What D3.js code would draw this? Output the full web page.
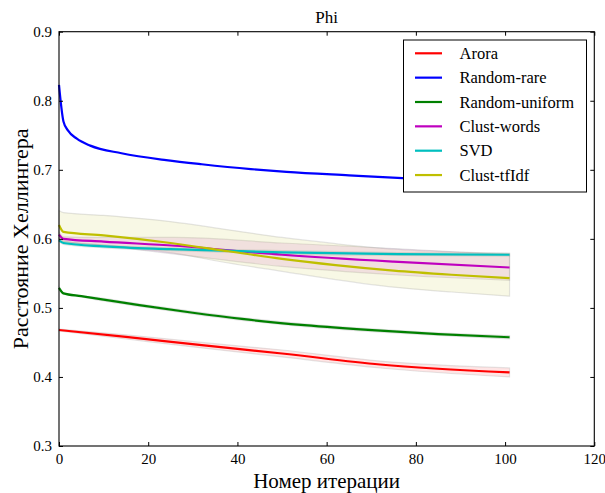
<!DOCTYPE html>
<html>
<head>
<meta charset="utf-8">
<script src="https://cdn.jsdelivr.net/npm/d3@7"></script>
<style>
  body { margin: 0; background: #fff; }
</style>
</head>
<body>
<div id="chart"></div>
<script>
// values (iteration -> Hellinger distance)
var seriesNames = ["Arora", "Random-rare", "Random-uniform", "Clust-words", "SVD", "Clust-tfIdf"];
var seriesColors = ["#ff0000", "#0000ff", "#008000", "#bf00bf", "#00bfbf", "#bfbf00"];

var aroraIter = [0, 15, 32, 50, 72, 101];
var aroraVals = [0.468, 0.458, 0.446, 0.434, 0.418, 0.4066];
var aroraLo = [0.4665, 0.455, 0.442, 0.429, 0.413, 0.400];
var aroraHi = [0.4695, 0.461, 0.450, 0.439, 0.423, 0.413];

var rareIter = [0, 1, 2, 4, 7, 14, 24, 32, 43, 51, 65, 77, 90, 101];
var rareVals = [0.823, 0.770, 0.757, 0.745, 0.735, 0.724, 0.714, 0.708, 0.701, 0.697, 0.692, 0.688, 0.685, 0.683];

var uniformIter = [0, 1, 5, 10, 18, 30, 41, 55, 72, 85, 101];
var uniformVals = [0.529, 0.521, 0.517, 0.512, 0.504, 0.493, 0.484, 0.475, 0.467, 0.462, 0.4575];
var uniformLo = [0.528, 0.520, 0.516, 0.510, 0.502, 0.491, 0.482, 0.473, 0.465, 0.460, 0.455];
var uniformHi = [0.530, 0.522, 0.518, 0.514, 0.506, 0.495, 0.486, 0.477, 0.469, 0.464, 0.460];

var wordsIter = [0, 1, 10, 26, 50, 75, 101];
var wordsVals = [0.606, 0.600, 0.596, 0.590, 0.577, 0.567, 0.5585];
var wordsLo = [0.602, 0.597, 0.590, 0.578, 0.560, 0.548, 0.540];
var wordsHi = [0.610, 0.603, 0.602, 0.602, 0.594, 0.586, 0.577];

var svdIter = [0, 1, 10, 25, 50, 76, 101];
var svdVals = [0.598, 0.594, 0.589, 0.585, 0.5805, 0.578, 0.577];
var svdLo = [0.596, 0.592, 0.587, 0.583, 0.578, 0.576, 0.575];
var svdHi = [0.600, 0.596, 0.591, 0.587, 0.583, 0.580, 0.579];

var tfidfIter = [0, 1, 10, 25, 38, 50, 62, 75, 88, 101];
var tfidfVals = [0.620, 0.610, 0.605, 0.594, 0.582, 0.571, 0.562, 0.554, 0.548, 0.543];
var tfidfLo = [0.598, 0.596, 0.591, 0.580, 0.565, 0.553, 0.541, 0.530, 0.523, 0.517];
var tfidfHi = [0.641, 0.638, 0.634, 0.625, 0.613, 0.602, 0.593, 0.585, 0.581, 0.579];

var xTicks = [0, 20, 40, 60, 80, 100, 120];
var yTicks = [0.3, 0.4, 0.5, 0.6, 0.7, 0.8, 0.9];

var chartTitle = "Phi";
var xLabel = "Номер итерации";
var yLabel = "Расстояние Хеллингера";

var serifFont = "'Liberation Serif', 'Times New Roman', Tinos, 'DejaVu Serif', 'Noto Serif', FreeSerif, serif";

function zipSeries(iter, vals, lo, hi) {
    return iter.map(function (it, i) {
        return { x: it, y: vals[i], lo: lo ? lo[i] : null, hi: hi ? hi[i] : null };
    });
}

var series = [
    { name: seriesNames[0], color: seriesColors[0], points: zipSeries(aroraIter, aroraVals, aroraLo, aroraHi) },
    { name: seriesNames[1], color: seriesColors[1], points: zipSeries(rareIter, rareVals) },
    { name: seriesNames[2], color: seriesColors[2], points: zipSeries(uniformIter, uniformVals, uniformLo, uniformHi) },
    { name: seriesNames[3], color: seriesColors[3], points: zipSeries(wordsIter, wordsVals, wordsLo, wordsHi) },
    { name: seriesNames[4], color: seriesColors[4], points: zipSeries(svdIter, svdVals, svdLo, svdHi) },
    { name: seriesNames[5], color: seriesColors[5], points: zipSeries(tfidfIter, tfidfVals, tfidfLo, tfidfHi) }
];

var W = 605, H = 493;
var margin = { top: 31.7, right: 10.7, bottom: 47, left: 59 };
var width = W - margin.left - margin.right;
var height = H - margin.top - margin.bottom;

var svg = d3.select("#chart").append("svg")
    .attr("width", W)
    .attr("height", H)
    .attr("font-family", serifFont);
var g = svg.append("g")
    .attr("transform", "translate(" + margin.left + "," + margin.top + ")");

var x = d3.scaleLinear().domain([0, 120]).range([0, width]);
var y = d3.scaleLinear().domain([0.3, 0.9]).range([height, 0]);

// shaded bands first (fill_between look: alpha 0.1 + faint grey edge)
var area = d3.area()
    .x(function (d) { return x(d.x); })
    .y0(function (d) { return y(d.lo); })
    .y1(function (d) { return y(d.hi); })
    .curve(d3.curveMonotoneX);

g.selectAll("path.band")
    .data(series.filter(function (s) { return s.points[0].lo !== null; }))
    .enter().append("path")
    .attr("class", "band")
    .attr("d", function (s) { return area(s.points); })
    .attr("fill", function (s) { return s.color; })
    .attr("fill-opacity", 0.1)
    .attr("stroke", "#999")
    .attr("stroke-opacity", 0.25)
    .attr("stroke-width", 1.2);

var line = d3.line()
    .x(function (d) { return x(d.x); })
    .y(function (d) { return y(d.y); })
    .curve(d3.curveMonotoneX);

g.selectAll("path.series")
    .data(series)
    .enter().append("path")
    .attr("class", "series")
    .attr("d", function (s) { return line(s.points); })
    .attr("fill", "none")
    .attr("stroke", function (d) { return d.color; })
    .attr("stroke-width", 2.2);

// frame with inward ticks on all sides
var tickLen = 4;
var axisBottom = d3.axisBottom(x).tickValues(xTicks).tickSizeInner(-tickLen).tickSizeOuter(0).tickPadding(7);
var axisTop = d3.axisTop(x).tickValues(xTicks).tickSizeInner(-tickLen).tickSizeOuter(0).tickFormat("");
var axisLeft = d3.axisLeft(y).tickValues(yTicks).tickSizeInner(-tickLen).tickSizeOuter(0).tickPadding(7).tickFormat(d3.format(".1f"));
var axisRight = d3.axisRight(y).tickValues(yTicks).tickSizeInner(-tickLen).tickSizeOuter(0).tickFormat("");

g.append("g").attr("transform", "translate(0," + height + ")").call(axisBottom);
g.append("g").call(axisTop);
g.append("g").call(axisLeft);
g.append("g").attr("transform", "translate(" + width + ",0)").call(axisRight);

g.selectAll(".domain").remove();
g.selectAll(".tick line").attr("stroke", "#000").attr("stroke-width", 1);
// d3 axis puts font-family=sans-serif on its group; put the serif back
g.selectAll("g").attr("font-family", serifFont).attr("font-size", 15);

g.append("rect")
    .attr("x", 0).attr("y", 0)
    .attr("width", width).attr("height", height)
    .attr("fill", "none")
    .attr("stroke", "#000")
    .attr("stroke-width", 1.1);

// legend
var legend = g.append("g").attr("transform", "translate(" + (403.5 - margin.left) + "," + (40 - margin.top) + ")");
legend.append("rect")
    .attr("width", 183).attr("height", 152)
    .attr("fill", "#fff")
    .attr("stroke", "#000")
    .attr("stroke-width", 1);
var rows = legend.selectAll("g.row")
    .data(series)
    .enter().append("g")
    .attr("class", "row")
    .attr("transform", function (d, i) { return "translate(0," + (13.3 + i * 24.35) + ")"; });
rows.append("line")
    .attr("x1", 11.5).attr("x2", 38.5)
    .attr("stroke", function (d) { return d.color; })
    .attr("stroke-width", 2.2);
rows.append("text")
    .attr("x", 56)
    .attr("dy", "0.35em")
    .attr("font-size", 16.5)
    .text(function (d) { return d.name; });

// titles
svg.append("text")
    .attr("x", margin.left + width / 2)
    .attr("y", 23)
    .attr("text-anchor", "middle")
    .attr("font-size", 17)
    .text(chartTitle);

svg.append("text")
    .attr("x", margin.left + width / 2)
    .attr("y", 488)
    .attr("text-anchor", "middle")
    .attr("font-size", 21)
    .text(xLabel);

svg.append("text")
    .attr("transform", "translate(28," + (margin.top + height / 2) + ") rotate(-90)")
    .attr("text-anchor", "middle")
    .attr("font-size", 22)
    .text(yLabel);
</script>
</body>
</html>
